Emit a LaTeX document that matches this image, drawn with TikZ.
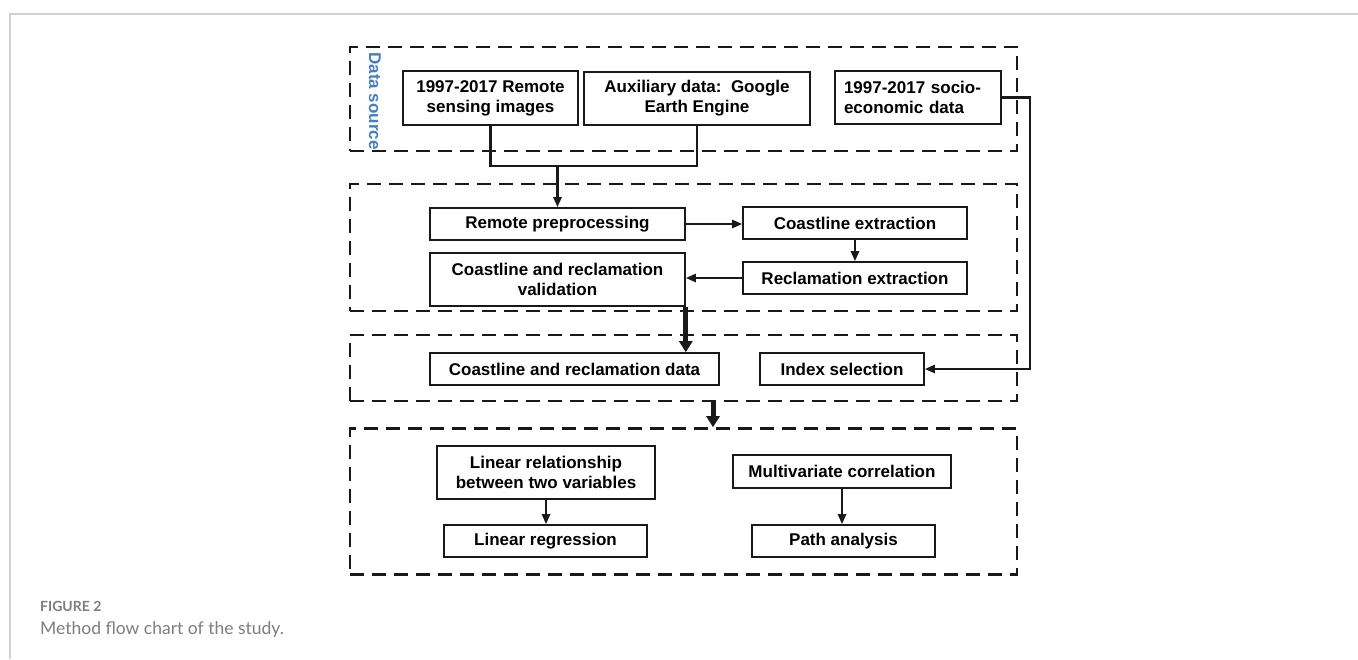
\documentclass[tikz,border=0pt]{standalone}
\usepackage{fontspec}
\setmainfont{Liberation Sans}
\newfontfamily\capfont{Lato}
\usetikzlibrary{arrows.meta}
\definecolor{dsblue}{RGB}{68,126,196}
\definecolor{framegray}{RGB}{210,210,210}
\definecolor{capgray}{RGB}{125,125,125}
\begin{document}
\begin{tikzpicture}[x=1pt,y=-1pt,
  box/.style={draw=black!90, line width=1.6pt, rectangle, inner sep=0pt, align=center,
    font=\fontsize{17}{20}\selectfont\bfseries},
  grp/.style={draw=black!90, line width=2.6pt, dash pattern=on 14pt off 8pt, rectangle, inner sep=0pt},
  conn/.style={line width=2.4pt, black!90},
  arr/.style={conn, -{Triangle[length=10pt,width=8pt]}},
  thickarr/.style={line width=5pt, black!90, -{Triangle[length=11pt,width=13pt]}}]
\useasboundingbox (0,0) rectangle (1358,659);
\draw[framegray, line width=1.5pt] (10,659) -- (10,14) -- (1358,14);

% groups
\node[grp, minimum width=667pt, minimum height=104pt] (g1) at (683.5,99) {};
\node[grp, minimum width=667pt, minimum height=127pt] (g2) at (683.5,247.5) {};
\node[grp, minimum width=667pt, minimum height=66pt] (g3) at (683.5,368) {};
\node[grp, minimum width=667pt, minimum height=146pt] (g4) at (683.5,501.5) {};

\node[rotate=-90, text=dsblue, font=\fontsize{17}{20}\selectfont\bfseries] (ds) at (375,101) {Data source};

% boxes
\node[box, minimum width=175pt, minimum height=54pt] (b1) at (490.5,98) {1997-2017 Remote\\sensing images};
\node[box, minimum width=226pt, minimum height=53pt] (b2) at (697,98.5) {Auxiliary data:\ \ Google\\Earth Engine};
\node[box, minimum width=166pt, minimum height=53pt, align=left, text width=148pt] (b3) at (918,97.5) {1997-2017 socio-\\economic data};
\node[box, minimum width=255pt, minimum height=32pt] (b4) at (557.5,224) {Remote preprocessing};
\node[box, minimum width=255pt, minimum height=53pt] (b5) at (557.5,279.5) {Coastline and reclamation\\validation};
\node[box, minimum width=224pt, minimum height=32pt] (b6) at (855,223) {Coastline extraction};
\node[box, minimum width=224pt, minimum height=32pt] (b7) at (855,278) {Reclamation extraction};
\node[box, minimum width=289pt, minimum height=32pt] (b8) at (574.5,369) {Coastline and reclamation data};
\node[box, minimum width=164pt, minimum height=32pt] (b9) at (842,369) {Index selection};
\node[box, minimum width=218pt, minimum height=53pt] (b10) at (546,472.5) {Linear relationship\\between two variables};
\node[box, minimum width=203pt, minimum height=32pt] (b11) at (545.5,541) {Linear regression};
\node[box, minimum width=218pt, minimum height=33pt] (b12) at (842,471.5) {Multivariate correlation};
\node[box, minimum width=183pt, minimum height=32pt] (b13) at (843.5,541) {Path analysis};

% connectors
\coordinate (j1) at (557.5,166);
\coordinate (turn) at (1030,97.5);
\coordinate (m) at (713,0);
\draw[conn] (b1.south) |- (j1) -| (b2.south);
\draw[arr] (j1) -- (b4.north);
\draw[arr] (b4.east) -- (b4.east -| b6.west);
\draw[arr] (b6.south) -- (b7.north);
\draw[arr] (b7.west) -- (b7.west -| b5.east);
\draw[thickarr] (b5.south east) -- (b5.south east |- b8.north);
\draw[arr] (b3.east) -- (turn) |- (b9.east);
\draw[thickarr] (g3.south -| m) -- (g4.north -| m);
\draw[arr] (b10.south) -- (b10.south |- b11.north);
\draw[arr] (b12.south) -- (b12.south |- b13.north);

% caption
\node[anchor=base west, inner sep=0pt, text=capgray, font=\capfont\bfseries\fontsize{14}{16}\selectfont] (cap1) at (40,611) {FIGURE 2};
\node[anchor=base west, inner sep=0pt, text=capgray, font=\capfont\fontsize{17.5}{20}\selectfont] (cap2) at (40,634) {Method flow chart of the study.};
\end{tikzpicture}
\end{document}
